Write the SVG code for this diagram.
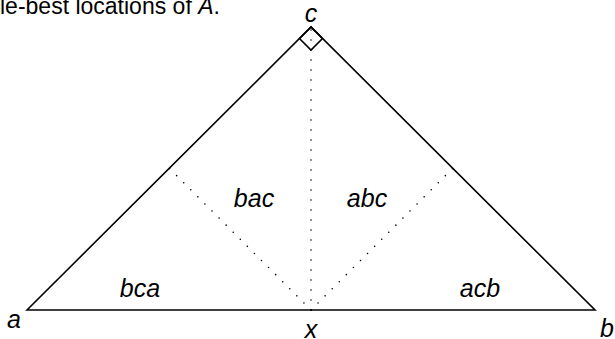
<svg xmlns="http://www.w3.org/2000/svg" width="615" height="339" viewBox="0 0 615 339">
<style>
.t{font-family:"Liberation Sans",Arial,sans-serif;fill:#000}
.i{font-style:italic;font-size:25px}
.solid{fill:none;stroke:#000;stroke-width:1.6;stroke-linejoin:miter}
.dot{fill:none;stroke:#000;stroke-width:1.6;stroke-linecap:round;stroke-dasharray:0 10}
</style>
<rect width="615" height="339" fill="#fff"/>
<text class="t" x="0" y="14" font-size="23">le-best locations of <tspan font-style="italic">A</tspan>.</text>
<g id="connectors">
<path class="dot" d="M311,310 L311,27"/>
<path class="dot" d="M311,310 L169,168"/>
<path class="dot" d="M311,310 L453,168"/>
</g>
<g id="triangle">
<polygon class="solid" points="27,310 311,27 595,310"/>
<polygon class="solid" points="311,27 299.5,38.5 311,50 322.5,38.5"/>
</g>
<g id="node-c"><text class="t i" x="311" y="22" text-anchor="middle">c</text></g>
<g id="node-a"><text class="t i" x="14" y="328" text-anchor="middle">a</text></g>
<g id="node-b"><text class="t i" x="607" y="337" text-anchor="middle">b</text></g>
<g id="node-x"><text class="t i" x="311" y="338" text-anchor="middle">x</text></g>
<g id="region-bca"><text class="t i" x="140" y="297" text-anchor="middle">bca</text></g>
<g id="region-acb"><text class="t i" x="480" y="297" text-anchor="middle">acb</text></g>
<g id="region-bac"><text class="t i" x="254" y="207" text-anchor="middle">bac</text></g>
<g id="region-abc"><text class="t i" x="367" y="207" text-anchor="middle">abc</text></g>
</svg>
